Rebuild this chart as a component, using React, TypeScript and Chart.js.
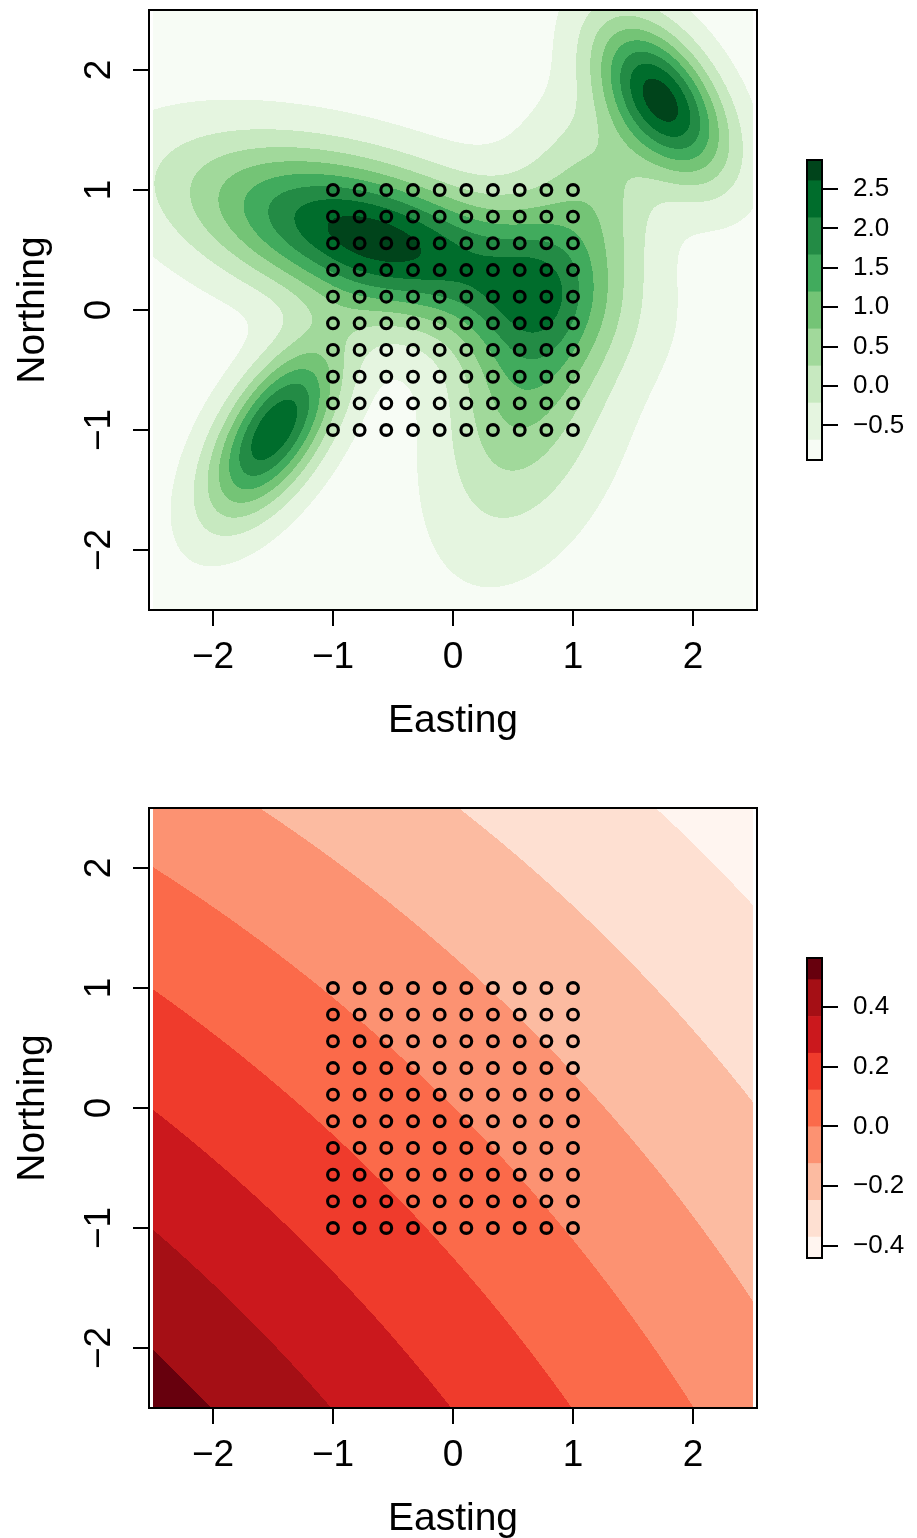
import React, { useEffect, useRef } from "react";
import { Chart, registerables } from "chart.js";

Chart.register(...registerables);

const FONT = "'Liberation Sans', Arial, Helvetica, sans-serif";

// Sampling sites (same coordinates on both axes)
const siteCoords = [-1, -0.778, -0.556, -0.333, -0.111, 0.111, 0.333, 0.556, 0.778, 1];

// Axis ticks of the map panels
const axisTicks = [-2, -1, 0, 1, 2];

// Top surface (Greens): Gaussian components
const greenBase = -0.95;
const greenCx = [-0.675, -1.49, 1.74, 0.73, 1.25, 0.75];
const greenCy = [0.6, -1.0, 1.75, -0.1, 1.05, -1.2];
const greenAmp = [3.8, 3.5, 3.7, 2.08, 0.45, 0.35];
const greenSx = [1.0, 0.38, 0.375, 0.48, 0.3, 0.6];
const greenSy = [0.5, 0.5, 0.46, 0.95, 0.4, 0.8];
const greenRho = [-0.5, 0.6, -0.5, 0.45, -0.3, 0.35];
const greenLevels = [-0.685, -0.215, 0.255, 0.725, 1.195, 1.665, 2.135, 2.605];
const greenRange = [-0.938, 2.868];
const greenColors = ["#F7FCF5", "#E5F5E0", "#C7E9C0", "#A1D99B", "#74C476", "#41AB5D", "#238B45", "#006D2C", "#00441B"];
const greenKeyTicks = [-0.5, 0, 0.5, 1, 1.5, 2, 2.5];

// Bottom surface (Reds): trend surface
const redIntercept = 0.0;
const redSlope = -0.1387;
const redCurve = 0.0048;
const redBend = 0.035;
const redLevels = [-0.37, -0.247, -0.124, -0.001, 0.122, 0.245, 0.368, 0.491];
const redRange = [-0.44, 0.5635];
const redColors = ["#FFF5F0", "#FEE0D2", "#FCBBA1", "#FC9272", "#FB6A4A", "#EF3B2C", "#CB181D", "#A50F15", "#67000D"];
const redKeyTicks = [-0.4, -0.2, 0, 0.2, 0.4];

function greenField(x: number, y: number): number {
  let v = greenBase;
  for (let k = 0; k < greenCx.length; k++) {
    const dx = (x - greenCx[k]) / greenSx[k];
    const dy = (y - greenCy[k]) / greenSy[k];
    const r = greenRho[k];
    const q = (dx * dx - 2 * r * dx * dy + dy * dy) / (1 - r * r);
    v += greenAmp[k] * Math.exp(-0.5 * q);
  }
  return v;
}

function redField(x: number, y: number): number {
  const u = (x + y) / Math.SQRT2;
  const v = (x - y) / Math.SQRT2;
  const w = u + redBend * v * v;
  return redIntercept + redSlope * w + redCurve * w * w;
}

function fmt(v: number, d: number): string {
  const s = Math.abs(v).toFixed(d);
  return (v < -1e-9 ? "\u2212" : "") + s;
}

function hexToRgb(h: string): number[] {
  const n = parseInt(h.slice(1), 16);
  return [(n >> 16) & 255, (n >> 8) & 255, n & 255];
}

function contourPlugin(field: (x: number, y: number) => number, levels: number[], colors: string[]) {
  return {
    id: "contourFill",
    beforeDatasetsDraw(chart: any) {
      const xs = chart.scales.x;
      const ys = chart.scales.y;
      const px0 = Math.round(xs.getPixelForValue(-2.5));
      const px1 = Math.round(xs.getPixelForValue(2.5));
      const py0 = Math.round(ys.getPixelForValue(2.5)) + 1;
      const py1 = Math.round(ys.getPixelForValue(-2.5)) - 1;
      const w = px1 - px0;
      const h = py1 - py0;
      const off = document.createElement("canvas");
      off.width = w;
      off.height = h;
      const octx = off.getContext("2d")!;
      const img = octx.createImageData(w, h);
      const rgb = colors.map(hexToRgb);
      for (let j = 0; j < h; j++) {
        const yv = ys.getValueForPixel(py0 + j + 0.5);
        for (let i = 0; i < w; i++) {
          const xv = xs.getValueForPixel(px0 + i + 0.5);
          const val = field(xv, yv);
          let k = 0;
          while (k < levels.length && val > levels[k]) k++;
          const c = rgb[k];
          const o = (j * w + i) * 4;
          img.data[o] = c[0];
          img.data[o + 1] = c[1];
          img.data[o + 2] = c[2];
          img.data[o + 3] = 255;
        }
      }
      octx.putImageData(img, 0, 0);
      chart.ctx.drawImage(off, px0, py0);
    },
  };
}

const boxPlugin = {
  id: "frameBox",
  afterDraw(chart: any) {
    const { ctx, chartArea } = chart;
    ctx.save();
    ctx.strokeStyle = "#000";
    ctx.lineWidth = 2;
    ctx.strokeRect(chartArea.left, chartArea.top, chartArea.right - chartArea.left, chartArea.bottom - chartArea.top);
    ctx.restore();
  },
};

const sites: { x: number; y: number }[] = [];
for (const yv of siteCoords) for (const xv of siteCoords) sites.push({ x: xv, y: yv });

function noPad(s: any) {
  s.paddingTop = 0;
  s.paddingBottom = 0;
  s.paddingLeft = 0;
  s.paddingRight = 0;
}

function mainConfig(field: any, levels: number[], colors: string[], H: number): any {
  const tickFont = { family: FONT, size: 37, lineHeight: 1 };
  const titleFont = { family: FONT, size: 39, lineHeight: 1 };
  return {
    type: "scatter",
    data: {
      datasets: [
        {
          data: sites,
          pointRadius: 5.4,
          pointHoverRadius: 5.4,
          pointStyle: "circle",
          pointBorderColor: "#000",
          pointBackgroundColor: "rgba(0,0,0,0)",
          pointBorderWidth: 3.1,
          showLine: false,
        },
      ],
    },
    options: {
      responsive: false,
      animation: false,
      devicePixelRatio: 1,
      events: [],
      layout: { padding: { top: 10, right: 23, left: 0, bottom: 0 } },
      plugins: { legend: { display: false }, tooltip: { enabled: false } },
      scales: {
        x: {
          type: "linear",
          min: -2.533,
          max: 2.533,
          afterBuildTicks: (s: any) => {
            s.ticks = axisTicks.map((v) => ({ value: v }));
          },
          ticks: { callback: (v: number) => fmt(v, 0), font: tickFont, color: "#000", padding: 13, maxRotation: 0, autoSkip: false },
          grid: { display: true, drawOnChartArea: false, drawTicks: true, tickLength: 16, color: "#000", lineWidth: 2 },
          border: { display: false },
          title: { display: true, text: "Easting", font: titleFont, color: "#000", padding: { top: 0, bottom: H - 19.5 - 721 } },
          afterFit: (s: any) => {
            s.height = H - 610;
            noPad(s);
          },
        },
        y: {
          type: "linear",
          min: -2.5,
          max: 2.5,
          afterBuildTicks: (s: any) => {
            s.ticks = axisTicks.map((v) => ({ value: v }));
          },
          ticks: { callback: (v: number) => fmt(v, 0), font: tickFont, color: "#000", padding: 12, minRotation: 90, maxRotation: 90, crossAlign: "center", autoSkip: false },
          grid: { display: true, drawOnChartArea: false, drawTicks: true, tickLength: 16, color: "#000", lineWidth: 2 },
          border: { display: false },
          title: { display: true, text: "Northing", font: titleFont, color: "#000", padding: { top: 14, bottom: 0 } },
          afterFit: (s: any) => {
            s.width = 149;
            noPad(s);
          },
        },
      },
    },
    plugins: [contourPlugin(field, levels, colors), boxPlugin],
  };
}

function keyConfig(levels: number[], range: number[], colors: string[], ticks: number[]): any {
  return {
    type: "bar",
    data: {
      labels: ["key"],
      datasets: colors.map((c, i) => ({
        data: [[i === 0 ? range[0] : levels[i - 1], i === colors.length - 1 ? range[1] : levels[i]]],
        backgroundColor: c,
        borderWidth: 0,
        barPercentage: 1,
        categoryPercentage: 1,
        grouped: false,
      })),
    },
    options: {
      responsive: false,
      animation: false,
      devicePixelRatio: 1,
      events: [],
      layout: { padding: { left: 27, top: 10, bottom: 20, right: 0 } },
      plugins: { legend: { display: false }, tooltip: { enabled: false } },
      scales: {
        x: {
          display: false,
          afterFit: (s: any) => noPad(s),
        },
        y: {
          type: "linear",
          position: "right",
          min: range[0],
          max: range[1],
          afterBuildTicks: (s: any) => {
            s.ticks = ticks.map((v) => ({ value: v }));
          },
          ticks: { callback: (v: number) => fmt(v, 1), font: { family: FONT, size: 26, lineHeight: 1 }, color: "#000", padding: 15, autoSkip: false },
          grid: { display: true, drawOnChartArea: false, drawTicks: true, tickLength: 16, color: "#000", lineWidth: 2 },
          border: { display: false },
          afterFit: (s: any) => {
            s.width = 95;
            noPad(s);
          },
        },
      },
    },
    plugins: [boxPlugin],
  };
}

export default function App() {
  const topMain = useRef<HTMLCanvasElement>(null);
  const topKey = useRef<HTMLCanvasElement>(null);
  const botMain = useRef<HTMLCanvasElement>(null);
  const botKey = useRef<HTMLCanvasElement>(null);

  useEffect(() => {
    const charts = [
      new Chart(topMain.current!, mainConfig(greenField, greenLevels, greenColors, 770)),
      new Chart(topKey.current!, keyConfig(greenLevels, greenRange, greenColors, greenKeyTicks)),
      new Chart(botMain.current!, mainConfig(redField, redLevels, redColors, 740)),
      new Chart(botKey.current!, keyConfig(redLevels, redRange, redColors, redKeyTicks)),
    ];
    return () => charts.forEach((c) => c.destroy());
  }, []);

  return (
    <div style={{ position: "absolute", left: 0, top: 0, width: 917, height: 1538, background: "#fff", overflow: "hidden" }}>
      <canvas ref={topMain} width={780} height={770} style={{ position: "absolute", left: 0, top: 0 }} />
      <canvas ref={topKey} width={137} height={330} style={{ position: "absolute", left: 780, top: 150 }} />
      <canvas ref={botMain} width={780} height={740} style={{ position: "absolute", left: 0, top: 798 }} />
      <canvas ref={botKey} width={137} height={330} style={{ position: "absolute", left: 780, top: 948 }} />
    </div>
  );
}
